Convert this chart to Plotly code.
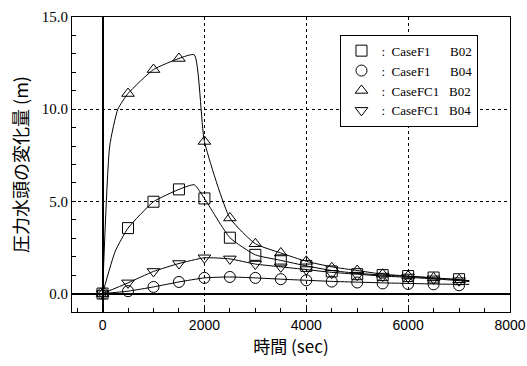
import plotly.graph_objects as go

# marker times (sec)
t = [0, 500, 1000, 1500, 2000, 2500, 3000, 3500, 4000, 4500, 5000, 5500, 6000, 6500, 7000]
f1_b02 = [0, 3.55, 4.98, 5.65, 5.16, 3.03, 2.1, 1.8, 1.5, 1.2, 1.05, 1.0, 0.95, 0.87, 0.78]
f1_b04 = [0, 0.13, 0.36, 0.63, 0.85, 0.9, 0.85, 0.78, 0.72, 0.65, 0.6, 0.55, 0.52, 0.5, 0.45]
fc1_b02 = [0, 10.85, 12.15, 12.75, 8.25, 4.1, 2.7, 2.2, 1.75, 1.4, 1.25, 1.05, 0.95, 0.85, 0.75]
fc1_b04 = [0, 0.58, 1.2, 1.63, 1.94, 1.88, 1.6, 1.45, 1.3, 1.1, 1.0, 0.95, 0.9, 0.8, 0.7]

# curve points
lt_f1_b02 = [0, 250, 500, 1000, 1500, 1800, 2000, 2500, 3000, 3500, 4000, 4500, 5000, 5500, 6000, 6500, 7000, 7200]
lv_f1_b02 = [0, 2.3, 3.55, 4.98, 5.65, 5.9, 5.16, 3.03, 2.1, 1.8, 1.5, 1.25, 1.1, 1.0, 0.93, 0.85, 0.75, 0.7]
lt_f1_b04 = [0, 500, 1000, 1500, 2000, 2500, 3000, 3500, 4000, 4500, 5000, 5500, 6000, 6500, 7000, 7200]
lv_f1_b04 = [0, 0.13, 0.36, 0.63, 0.85, 0.9, 0.85, 0.78, 0.72, 0.66, 0.62, 0.58, 0.55, 0.52, 0.5, 0.5]
lt_fc1_b02 = [0, 140, 300, 500, 1000, 1500, 1800, 2000, 2500, 3000, 3500, 4000, 4500, 5000, 5500, 6000, 6500, 7000, 7200]
lv_fc1_b02 = [0, 8.0, 10.0, 10.85, 12.15, 12.75, 12.95, 8.25, 4.1, 2.7, 2.2, 1.75, 1.45, 1.25, 1.05, 0.95, 0.85, 0.75, 0.7]
lt_fc1_b04 = [0, 500, 1000, 1500, 2000, 2500, 3000, 3500, 4000, 4500, 5000, 5500, 6000, 6500, 7000, 7200]
lv_fc1_b04 = [0, 0.58, 1.2, 1.63, 1.94, 1.88, 1.6, 1.45, 1.3, 1.15, 1.05, 0.95, 0.88, 0.8, 0.7, 0.65]

names = [":\u00a0\u00a0CaseF1\u00a0\u00a0\u00a0\u00a0\u00a0\u00a0B02",
         ":\u00a0\u00a0CaseF1\u00a0\u00a0\u00a0\u00a0\u00a0\u00a0B04",
         ":\u00a0\u00a0CaseFC1\u00a0\u00a0\u00a0B02",
         ":\u00a0\u00a0CaseFC1\u00a0\u00a0\u00a0B04"]
symbols = ["square-open", "circle-open", "triangle-up-open", "triangle-down-open"]
series = [f1_b02, f1_b04, fc1_b02, fc1_b04]
lines = [(lt_f1_b02, lv_f1_b02), (lt_f1_b04, lv_f1_b04), (lt_fc1_b02, lv_fc1_b02), (lt_fc1_b04, lv_fc1_b04)]

fig = go.Figure()
for (lt, lv) in lines:
    fig.add_trace(go.Scatter(x=lt, y=lv, mode="lines", line=dict(color="black", width=1, shape="spline", smoothing=0.5),
                             showlegend=False, hoverinfo="skip"))
for name, sym, vals in zip(names, symbols, series):
    fig.add_trace(go.Scatter(x=t, y=vals, mode="markers", name=name,
                             marker=dict(symbol=sym, size=11, color="black", line=dict(width=1, color="black"))))

fig.update_layout(
    width=527, height=366,
    margin=dict(l=72, r=17, t=17, b=54),
    paper_bgcolor="white", plot_bgcolor="white",
    showlegend=True,
    legend=dict(x=0.613, y=0.94, xanchor="left", yanchor="top", bgcolor="white",
                bordercolor="black", borderwidth=1,
                font=dict(family="Liberation Serif", size=13, color="black"),
                tracegroupgap=0, itemwidth=30),
)
fig.update_xaxes(range=[-600, 8000], tickvals=[0, 2000, 4000, 6000, 8000], automargin=False,
                 ticklabeloverflow="allow",
                 showgrid=True, gridcolor="black", gridwidth=1, griddash="3px,3px",
                 zeroline=True, zerolinecolor="black", zerolinewidth=1.5,
                 showline=True, linecolor="black", linewidth=1, mirror=True,
                 ticks="inside", ticklen=4, tickcolor="black",
                 minor=dict(dtick=500, ticks="inside", ticklen=4, tickcolor="black", showgrid=False),
                 tickfont=dict(family="Liberation Sans", size=14, color="black"),
                 title=dict(text="時間 (sec)", font=dict(family="Noto Sans CJK JP", size=17, color="black"), standoff=6))
fig.update_yaxes(range=[-1, 15], tickvals=[0, 5, 10, 15], tickformat=".1f", automargin=False,
                 showgrid=True, gridcolor="black", gridwidth=1, griddash="3px,3px",
                 zeroline=True, zerolinecolor="black", zerolinewidth=1.5,
                 showline=True, linecolor="black", linewidth=1, mirror=True,
                 ticks="inside", ticklen=4, tickcolor="black",
                 minor=dict(dtick=1, ticks="inside", ticklen=4, tickcolor="black", showgrid=False),
                 tickfont=dict(family="Liberation Serif", size=15, color="black"),
                 title=dict(text="圧力水頭の変化量 (m)", font=dict(family="Noto Sans CJK JP", size=18, color="black"), standoff=8))

# remove the default page margin so the figure sits at the window's top-left corner
fig.write_html("out.html", config={"displayModeBar": False},
               post_script="document.body.style.margin='0';document.body.style.overflow='hidden';")
